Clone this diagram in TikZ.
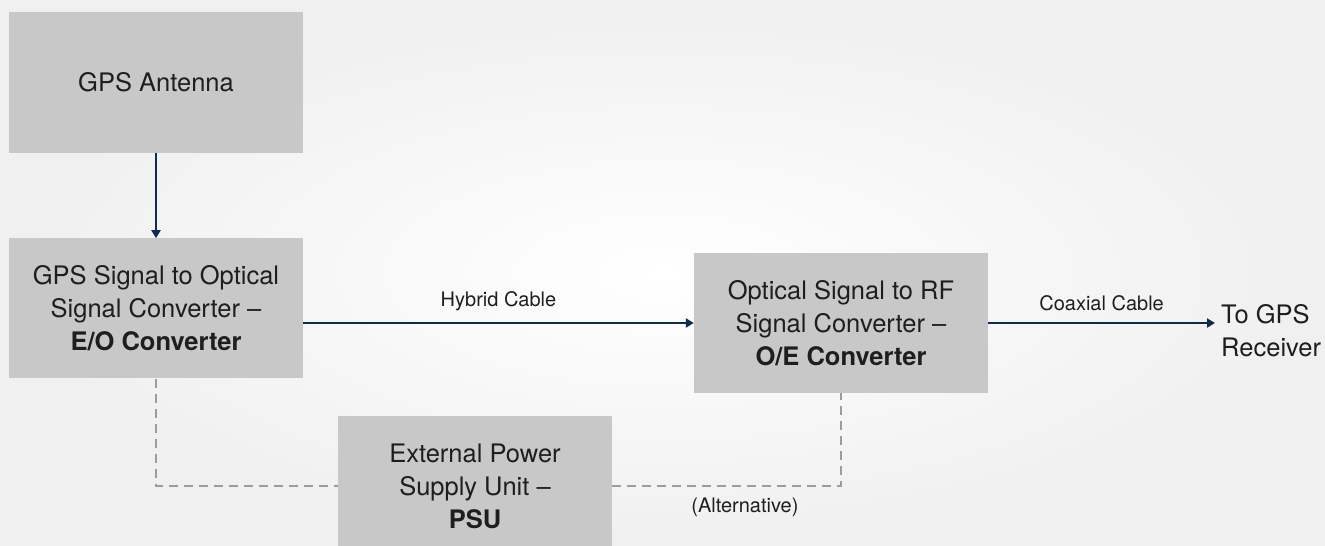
\documentclass[tikz,border=0pt]{standalone}
\usepackage{fontspec}
\setmainfont{TeX Gyre Heros}
\usetikzlibrary{positioning,arrows.meta}
\definecolor{boxgray}{HTML}{C8C8C8}
\definecolor{navy}{HTML}{0E2B52}
\definecolor{dashgray}{HTML}{9C9C9C}
\definecolor{inkgray}{HTML}{1E1E1E}
\begin{document}
\begin{tikzpicture}[x=1pt,y=1pt,font=\fontsize{25.5}{33}\selectfont,node distance=85pt and 391pt]
  \tikzset{
    box/.style={fill=boxgray,minimum width=294pt,minimum height=140pt,inner sep=0pt,align=center,text=inkgray},
    psubox/.style={box,minimum width=274pt},
    link/.style={draw=navy,line width=2.6pt,-{Triangle[length=8pt,width=9pt]}},
    power/.style={draw=dashgray,line width=2.8pt,dash pattern=on 9pt off 6pt},
    lbl/.style={font=\fontsize{20}{24}\selectfont,text=inkgray}
  }
  % background
  \shade[inner color=white,outer color=black!6] (0,0) rectangle (1325,-546);
  \useasboundingbox (0,0) rectangle (1325,-546);
  \node[box,minimum height=141pt] (ant) at (156,-82.5) {GPS Antenna};
  \node[box,below=85pt of ant] (eo) {GPS Signal to Optical\\Signal Converter --\\\textbf{E/O Converter}};
  \node[box] (oe) at (841,-323) {Optical Signal to RF\\Signal Converter --\\\textbf{O/E Converter}};
  \node[psubox] (psu) at (475,-486) {External Power\\Supply Unit --\\\textbf{PSU}};
  \node[anchor=west,inner sep=6pt,align=left,text=inkgray] (rx) at (1215,-331) {To GPS\\Receiver};
  \draw[link] (ant) -- (eo);
  \draw[link] (eo.east |- oe) -- node[lbl,above=8pt] {Hybrid Cable} (oe.west);
  \draw[link] (oe.east) -- node[lbl,above=8pt] {Coaxial Cable} (oe.east -| rx.west);
  \draw[power] (eo.south) |- (psu.west);
  \draw[power] (psu.east) -| node[lbl,below=7pt,pos=0.29] {(Alternative)} (oe.south);
\end{tikzpicture}
\end{document}
